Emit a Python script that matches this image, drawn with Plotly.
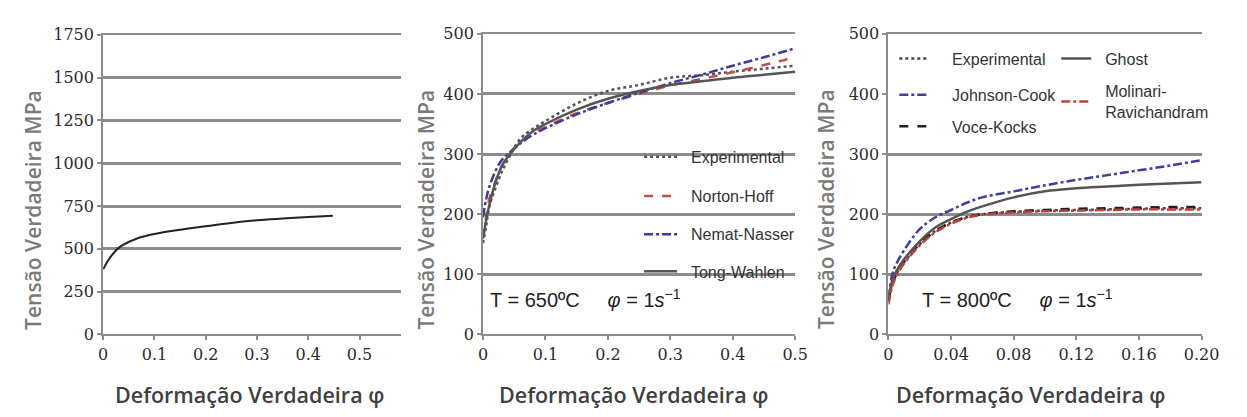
import plotly.graph_objects as go

W, H = 1247, 417

# ---------------- data ----------------
strain_left = [0, 0.013, 0.032, 0.065, 0.1, 0.15, 0.2, 0.25, 0.3, 0.35, 0.4, 0.448]
stress_left = [380, 447, 510, 559, 587, 612, 632, 651, 667, 677, 686, 693]

strain_mid = [0, 0.005, 0.01, 0.02, 0.03, 0.04, 0.06, 0.08, 0.1, 0.15, 0.2, 0.25, 0.3, 0.35, 0.4, 0.45, 0.5]
mid_experimental = [152, 180, 212, 244, 270, 291, 326, 342, 355, 384, 405, 415, 427, 431, 437, 442, 447]
mid_norton_hoff = [160, 195, 225, 255, 280, 297, 320, 335, 345, 368, 385, 400, 414, 425, 436, 448, 461]
mid_nemat_nasser = [195, 225, 245, 272, 290, 300, 318, 332, 343, 366, 385, 402, 418, 432, 447, 461, 476]
mid_tong_wahlen = [160, 190, 215, 253, 280, 296, 320, 338, 350, 374, 392, 405, 415, 421, 427, 432, 437]

strain_right = [0, 0.0025, 0.005, 0.01, 0.02, 0.03, 0.04, 0.05, 0.06, 0.08, 0.10, 0.12, 0.14, 0.16, 0.18, 0.20]
r_experimental = [55, 85, 100, 120, 150, 172, 186, 195, 200, 204, 206, 207, 208, 209, 210, 210]
r_voce_kocks = [55, 85, 100, 122, 152, 172, 186, 195, 200, 205, 207, 209, 210, 211, 212, 212]
r_molinari = [50, 80, 97, 118, 148, 170, 184, 194, 199, 203, 205, 206, 207, 208, 208, 208]
r_johnson_cook = [60, 100, 117, 140, 175, 195, 207, 219, 228, 238, 248, 257, 265, 273, 281, 290]
r_ghost = [60, 90, 105, 125, 155, 178, 192, 204, 213, 228, 238, 243, 246, 249, 251, 253]

left_yticks = [0, 250, 500, 750, 1000, 1250, 1500, 1750]
left_xticks = [0, 0.1, 0.2, 0.3, 0.4, 0.5]
left_xticklabels = ["0", "0.1", "0.2", "0.3", "0.4", "0.5"]
mid_xticks = [0, 0.1, 0.2, 0.3, 0.4, 0.5]
mid_xticklabels = ["0", "0.1", "0.2", "0.3", "0.4", "0.5"]
mid_yticks = [0, 100, 200, 300, 400, 500]
right_xticks = [0, 0.04, 0.08, 0.12, 0.16, 0.20]
right_xticklabels = ["0", "0.04", "0.08", "0.12", "0.16", "0.20"]
right_yticks = [0, 100, 200, 300, 400, 500]
right_gridvals = [100, 200, 300, 500]

y_title = "Tensão Verdadeira MPa"
x_title = "Deformação Verdadeira φ"
note_mid = "T = 650ºC &nbsp;&nbsp;&nbsp; <i>φ</i> = 1<i>s</i><sup>−1</sup>"
note_right = "T = 800ºC &nbsp;&nbsp;&nbsp; <i>φ</i> = 1<i>s</i><sup>−1</sup>"

NB = "\u00a0"

# ---------------- helpers ----------------
def px(x):
    return x / W

def py(y):
    return 1 - y / H

GRID = "#8c8c8c"
AXIS = "#8c8c8c"
LEGFONT = dict(family="Liberation Sans, Arial, sans-serif", size=16, color="#333333")
TICKFONT = dict(family="DejaVu Serif", size=16, color="#2a2a2a")

fig = go.Figure()

# left panel
fig.add_trace(go.Scatter(x=strain_left, y=stress_left, mode="lines", showlegend=False,
                         line=dict(color="#222222", width=2, shape="spline"),
                         xaxis="x", yaxis="y"))

# middle panel
mid_series = [
    ("Experimental", mid_experimental, "#555555", "dot", "legend"),
    ("Norton-Hoff", mid_norton_hoff, "#c0504d", "dash", "legend2"),
    ("Nemat-Nasser", mid_nemat_nasser, "#3c3c96", "dashdot", "legend3"),
    ("Tong-Wahlen", mid_tong_wahlen, "#555555", "solid", "legend4"),
]
for name, vals, col, dash, leg in mid_series:
    fig.add_trace(go.Scatter(x=strain_mid, y=vals, mode="lines", name=NB * 2 + name, legend=leg,
                             line=dict(color=col, width=2.5, dash=dash, shape="spline"),
                             xaxis="x2", yaxis="y2"))

# right panel
right_series = [
    ("Experimental", r_experimental, "#444444", "dot", "legend5", 4),
    ("Johnson-Cook", r_johnson_cook, "#40409a", "dashdot", "legend6", 4),
    ("Voce-Kocks", r_voce_kocks, "#222222", "dash", "legend7", 4),
    ("Ghost", r_ghost, "#555555", "solid", "legend8", 2),
    ("Molinari-<br>" + NB * 2 + "Ravichandram", r_molinari, "#c04040", "dashdot", "legend9", 2),
]
for name, vals, col, dash, leg, nsp in right_series:
    fig.add_trace(go.Scatter(x=strain_right, y=vals, mode="lines", name=NB * nsp + name, legend=leg,
                             line=dict(color=col, width=2.5, dash=dash, shape="spline"),
                             xaxis="x3", yaxis="y3"))

common_x = dict(showline=True, linecolor=AXIS, linewidth=2, mirror=True, ticks="outside",
                ticklen=4, tickcolor=AXIS, tickwidth=1.5, showgrid=False, zeroline=False,
                tickfont=TICKFONT, tickmode="array")
common_y = dict(showline=True, linecolor=AXIS, linewidth=2, ticks="outside", ticklen=4,
                tickcolor=AXIS, tickwidth=1.5, showgrid=True, gridcolor=GRID, gridwidth=2.5,
                zeroline=False, tickfont=TICKFONT, tickmode="array")

ydom = [py(341), py(26)]

fig.update_layout(
    width=W, height=H, margin=dict(l=0, r=0, t=0, b=0),
    paper_bgcolor="white", plot_bgcolor="white",
    xaxis=dict(domain=[px(100), px(403)], range=[0, 0.58], anchor="y",
               tickvals=left_xticks, ticktext=left_xticklabels, **common_x),
    yaxis=dict(domain=[py(341), py(27)], range=[0, 1750], anchor="x",
               tickvals=left_yticks, **common_y),
    xaxis2=dict(domain=[px(487), px(805)], range=[0, 0.5], anchor="y2",
                tickvals=mid_xticks, ticktext=mid_xticklabels, **common_x),
    yaxis2=dict(domain=ydom, range=[0, 500], anchor="x2",
                tickvals=mid_yticks, **common_y),
    yaxis4=dict(domain=ydom, range=[0, 500], anchor="x2", overlaying="y2", side="right",
                showline=True, linecolor="#111111", linewidth=3, showgrid=False,
                showticklabels=False, ticks="", zeroline=False),
    xaxis3=dict(domain=[px(900), px(1219)], range=[0, 0.2], anchor="y3",
                tickvals=right_xticks, ticktext=right_xticklabels, **common_x),
    yaxis3=dict(domain=ydom, range=[0, 500], anchor="x3",
                showline=True, linecolor=AXIS, linewidth=2, ticks="outside", ticklen=4,
                tickcolor=AXIS, tickwidth=1.5, zeroline=False, tickfont=TICKFONT,
                tickmode="array", tickvals=right_yticks, showgrid=False,
                minor=dict(tickmode="array", tickvals=right_gridvals, showgrid=True,
                           gridcolor=GRID, gridwidth=2.5, ticks="")),
    yaxis5=dict(domain=ydom, range=[0, 500], anchor="x3", overlaying="y3", side="right",
                showline=True, linecolor="#111111", linewidth=3, showgrid=False,
                showticklabels=False, ticks="", zeroline=False),
)

# legends (one per entry for exact placement)
def leg(x, y, iw):
    return dict(x=px(x), y=py(y), xanchor="left", yanchor="middle", xref="paper", yref="paper",
                bgcolor="rgba(0,0,0,0)", font=LEGFONT, itemwidth=iw, borderwidth=0)

mid_rows = [155, 196, 236, 275]
fig.update_layout(
    legend=leg(646, mid_rows[0], 33),
    legend2=leg(646, mid_rows[1], 33),
    legend3=leg(646, mid_rows[2], 33),
    legend4=leg(646, mid_rows[3], 33),
    legend5=leg(906, 52, 30),
    legend6=leg(906, 90, 30),
    legend7=leg(906, 123, 30),
    legend8=leg(1071, 52, 30),
    legend9=leg(1071, 97, 30),
)

# white area hiding the gridlines behind the middle legend
fig.add_shape(type="rect", xref="paper", yref="paper", layer="between",
              x0=px(623), x1=px(803), y0=py(288), y1=py(143),
              fillcolor="white", line=dict(width=0))

# annotations: axis titles and notes
ann = []
for cx in [29, 429, 837]:
    ann.append(dict(text=y_title, x=px(cx), y=py(210), xref="paper", yref="paper",
                    textangle=-90, showarrow=False, xanchor="center", yanchor="middle",
                    font=dict(family="Open Sans", size=21, color="#7a7a7a", weight=600)))
for cx in [249, 640, 1045]:
    ann.append(dict(text=x_title, x=px(cx), y=py(404), xref="paper", yref="paper",
                    showarrow=False, xanchor="center", yanchor="middle",
                    font=dict(family="Open Sans", size=21.5, color="#404040", weight=600)))
ann.append(dict(text=note_mid, x=px(492), y=py(303), xref="paper", yref="paper",
                showarrow=False, xanchor="left", yanchor="middle",
                font=dict(family="Liberation Sans, Arial, sans-serif", size=20, color="#222222")))
ann.append(dict(text=note_right, x=px(932), y=py(303), xref="paper", yref="paper",
                showarrow=False, xanchor="left", yanchor="middle",
                font=dict(family="Liberation Sans, Arial, sans-serif", size=20, color="#222222")))
fig.update_layout(annotations=ann)

fig.write_html("out.html")
